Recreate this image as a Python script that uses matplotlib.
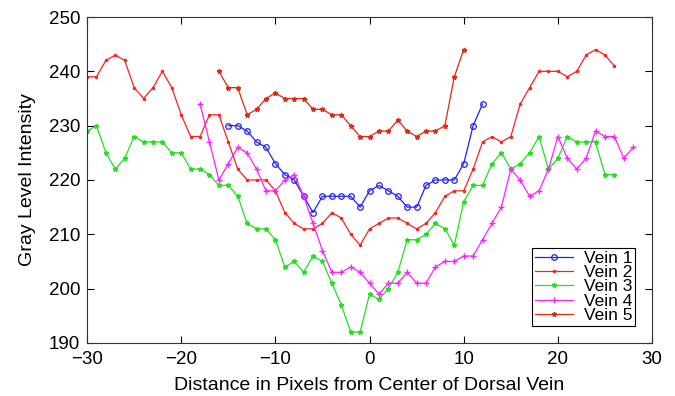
import matplotlib
matplotlib.use('Agg')
import matplotlib.pyplot as plt
import numpy as np

plt.rcParams['font.family'] = ['Liberation Sans', 'DejaVu Sans']

# gray level profiles across the vein, one list per vein
x_vein1 = list(range(-15, 13))
vein1 = [230, 230, 229, 227, 226, 223, 221, 220, 217, 214, 217, 217, 217, 217,
         215, 218, 219, 218, 217, 215, 215, 219, 220, 220, 220, 223, 230, 234]

x_vein2 = list(range(-30, 27))
vein2 = [239, 239, 242, 243, 242, 237, 235, 237, 240, 237, 232, 228, 228, 232,
         232, 227, 222, 220, 220, 220, 218, 214, 212, 211, 211, 212, 214, 213,
         210, 208, 211, 212, 213, 213, 212, 211, 212, 214, 217, 218, 218, 222,
         227, 228, 227, 228, 234, 237, 240, 240, 240, 239, 240, 243, 244, 243, 241]

x_vein3 = list(range(-30, 27))
vein3 = [229, 230, 225, 222, 224, 228, 227, 227, 227, 225, 225, 222, 222, 221,
         219, 219, 217, 212, 211, 211, 209, 204, 205, 203, 206, 205, 201, 197,
         192, 192, 199, 198, 200, 203, 209, 209, 210, 212, 211, 208, 216, 219,
         219, 223, 225, 222, 223, 225, 228, 222, 224, 228, 227, 227, 227, 221, 221]

x_vein4 = list(range(-18, 29))
vein4 = [234, 227, 220, 223, 226, 225, 222, 218, 218, 220, 221, 217, 212, 207,
         203, 203, 204, 203, 201, 199, 201, 201, 203, 201, 201, 204, 205, 205,
         206, 206, 209, 212, 215, 222, 220, 217, 218, 222, 228, 224, 222, 224,
         229, 228, 228, 224, 226]

x_vein5 = list(range(-16, 11))
vein5 = [240, 237, 237, 232, 233, 235, 236, 235, 235, 235, 233, 233, 232, 232,
         230, 228, 228, 229, 229, 231, 229, 228, 229, 229, 230, 239, 244]

fig = plt.figure(figsize=(6.75, 3.96), dpi=100)
ax = fig.add_axes([0.129, 0.134, 0.837, 0.823])

lw = 0.9
ax.plot(x_vein1, vein1, color='#2020ff', marker='o', markersize=4,
        markerfacecolor='none', markeredgewidth=0.9, lw=lw, label='Vein 1')
ax.plot(x_vein2, vein2, color='#ff2020', marker='.', markersize=3, lw=lw, label='Vein 2')
ax.plot(x_vein3, vein3, color='#20e020', marker='*', markersize=3.5, lw=lw, label='Vein 3')
ax.plot(x_vein4, vein4, color='#ff20ff', marker='+', markersize=4, lw=lw, label='Vein 4')
ax.plot(x_vein5, vein5, color='#dd2a10', marker='*', markersize=3.5, lw=lw, label='Vein 5')

ax.set_xlim(-30, 30)
ax.set_ylim(190, 250)
ax.set_xticks(np.arange(-30, 31, 10))
ax.set_yticks(np.arange(190, 251, 10))
ax.tick_params(direction='in', top=True, right=True, labelsize=13.5, length=5, width=0.8)
ax.tick_params(axis='x', pad=6)
ax.tick_params(axis='y', pad=5)
for s in ax.spines.values():
    s.set_linewidth(0.8)
    s.set_color('#333333')

ax.set_xlabel('Distance in Pixels from Center of Dorsal Vein', fontsize=14, labelpad=6)
ax.set_ylabel('Gray Level Intensity', fontsize=14, labelpad=9)

leg = ax.legend(loc='lower right', fontsize=12.5, fancybox=False, framealpha=1,
                edgecolor='black', handlelength=2.2, borderpad=0.15,
                labelspacing=-0.05, handletextpad=0.6, borderaxespad=1.0)
leg.get_frame().set_linewidth(0.8)

plt.savefig('out.png', dpi=100)
